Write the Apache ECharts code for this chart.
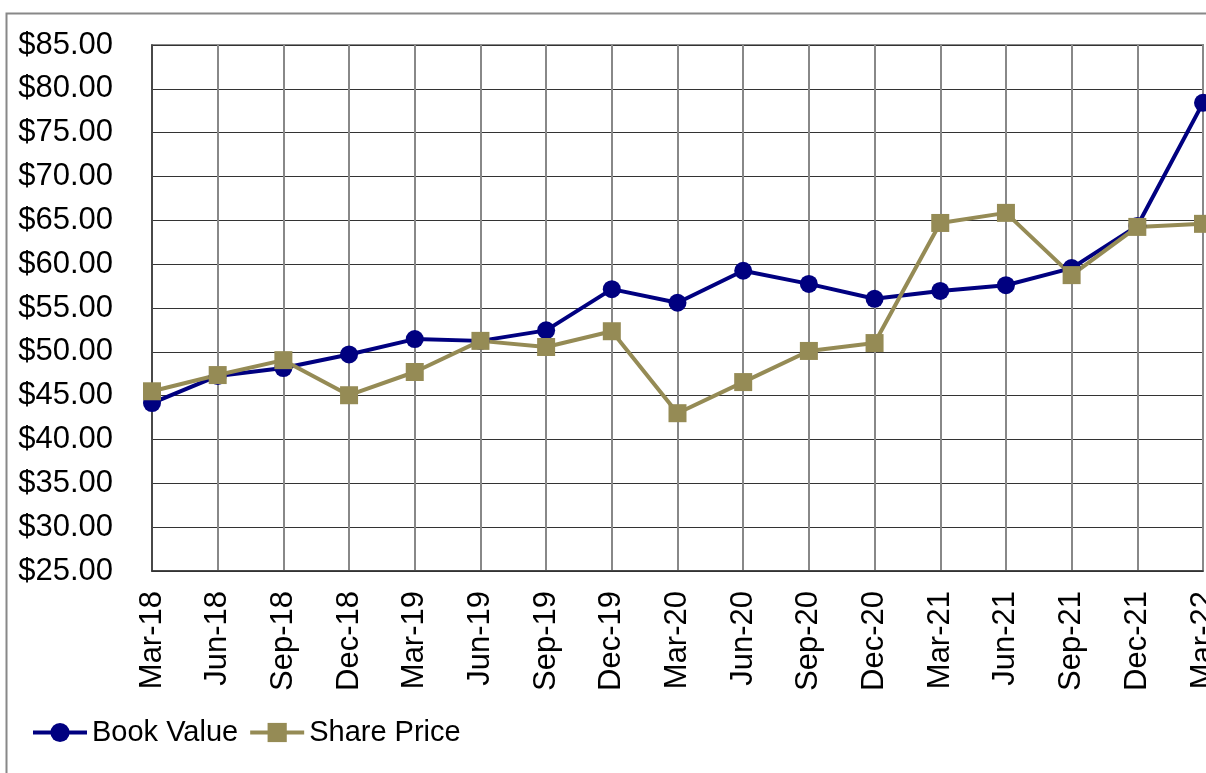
<!DOCTYPE html>
<html><head><meta charset="utf-8">
<script src="https://cdn.jsdelivr.net/npm/echarts@6/dist/echarts.min.js"></script>
<style>html,body{margin:0;padding:0;background:#fff}#c{width:1206px;height:773px}</style>
</head><body><div id="c"></div>
<script>
const categories = ['Mar-18','Jun-18','Sep-18','Dec-18','Mar-19','Jun-19','Sep-19','Dec-19','Mar-20','Jun-20','Sep-20','Dec-20','Mar-21','Jun-21','Sep-21','Dec-21','Mar-22'];
const bookValue = [44.15,47.25,48.15,49.7,51.45,51.25,52.45,57.15,55.6,59.25,57.75,56.05,56.95,57.6,59.55,64.35,78.4];
const sharePrice = [45.5,47.35,49.05,45.05,47.7,51.25,50.55,52.35,43.0,46.55,50.1,51.0,64.7,65.85,58.75,64.25,64.6];
const FONT = '"Liberation Sans", Arial, sans-serif';
const chart = echarts.init(document.getElementById('c'));
chart.setOption({
  animation: false,
  backgroundColor: '#fff',
  textStyle: {fontFamily: FONT},
  graphic: [{type:'rect', left:4, top:11, shape:{width:1400, height:900}, style:{fill:'none', stroke:'#888', lineWidth:2}, z:-1}],
  grid: {left:152, right:3, top:45, bottom:202, show:true, borderColor:'#888', borderWidth:2, outerBoundsMode:'none', containLabel:false},
  legend: {left:31, top:718, padding:0, itemWidth:54, itemHeight:24, itemGap:10,
    lineStyle:{width:4},
    textStyle:{fontSize:29, color:'#000', fontFamily:FONT},
    data:['Book Value','Share Price']},
  xAxis: {type:'category', data:categories, boundaryGap:false,
    axisLine:{lineStyle:{color:'#333', width:1.5}},
    axisTick:{show:false},
    axisLabel:{rotate:90, fontSize:31, color:'#000', margin:20, fontFamily:FONT, interval:0},
    splitLine:{show:true, lineStyle:{color:'#888', width:2}}},
  yAxis: {type:'value', min:25, max:85, interval:5,
    axisLine:{show:true, lineStyle:{color:'#333', width:1.5}},
    axisTick:{show:false},
    axisLabel:{fontSize:31, color:'#000', margin:39, fontFamily:FONT, formatter:v=>'$'+v.toFixed(2)},
    splitLine:{lineStyle:{color:'#333', width:1.2}}},
  series: [
    {name:'Book Value', type:'line', data:bookValue, color:'#000080', symbol:'circle', symbolSize:18,
      lineStyle:{width:4, color:'#000080'}, itemStyle:{color:'#000080'}},
    {name:'Share Price', type:'line', data:sharePrice, color:'#958B55', symbol:'rect', symbolSize:18,
      lineStyle:{width:4, color:'#958B55'}, itemStyle:{color:'#958B55'}}
  ]
});
</script></body></html>
